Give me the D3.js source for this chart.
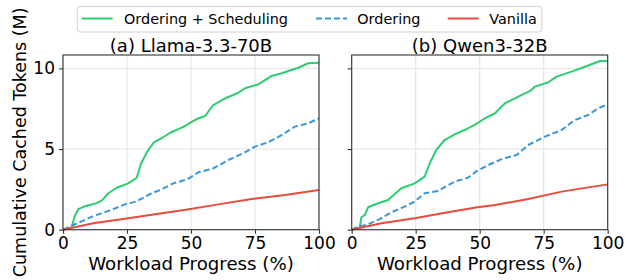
<!DOCTYPE html>
<html><head><meta charset="utf-8">
<script src="https://cdn.jsdelivr.net/npm/d3@7"></script>
<style>body{margin:0;background:#fff}svg{display:block}text{font-family:"DejaVu Sans",sans-serif;fill:#000}</style>
</head><body><svg id="c" width="637" height="280"></svg>
<script>
// ---- data ----
const seriesNames = ["Ordering + Scheduling", "Ordering", "Vanilla"];
const panelTitles = ["(a) Llama-3.3-70B", "(b) Qwen3-32B"];
const xTicks = [0, 25, 50, 75, 100];
const yTicks = [0, 5, 10];
const xLabel = "Workload Progress (%)";
const yLabel = "Cumulative Cached Tokens (M)";

const llamaFullX = [0,3.3,4.6,6,8,10.5,13,15.1,17.7,21,25.5,28.8,30.5,32.9,35.5,38.5,41.8,45.7,47.7,49.6,52.2,55.5,58.7,63.9,68.5,71.1,76.3,81.5,85.4,91.9,95.8,100];
const llamaFullY = [0,0.12,0.85,1.28,1.42,1.53,1.65,1.8,2.26,2.6,2.87,3.22,4.1,4.84,5.42,5.67,6.01,6.28,6.43,6.62,6.86,7.05,7.73,8.18,8.49,8.77,9.01,9.53,9.7,10.04,10.32,10.35];
const llamaOrdX = [0,4,7.9,11.8,15.1,19.7,24.2,28.8,34,37.9,43.1,47.7,49.6,52.9,58.7,64.6,70.4,75,80.2,85.4,90.6,95.8,100];
const llamaOrdY = [0,0.29,0.56,0.85,1.01,1.28,1.57,1.76,2.21,2.46,2.87,3.08,3.22,3.56,3.8,4.32,4.74,5.15,5.42,5.87,6.39,6.6,6.9];
const llamaVanX = [0,11.8,24.9,37.9,48,60.7,73.7,86.7,100];
const llamaVanY = [0,0.4,0.7,1.01,1.24,1.57,1.9,2.15,2.46];

const qwenFullX = [0,3.1,3.8,5.1,6.4,10.3,14.2,19.4,24.6,28.5,30.5,33,36.3,40.2,44.1,48.5,52,56,59.9,65.1,69.7,71.6,76.8,80.1,85.9,91.1,97,100];
const qwenFullY = [0,0.12,0.77,0.91,1.39,1.64,1.84,2.57,2.87,3.29,4.12,4.94,5.56,5.91,6.18,6.55,6.9,7.22,7.84,8.25,8.6,8.87,9.14,9.49,9.8,10.1,10.46,10.46];
const qwenOrdX = [0,2.5,6.4,10.9,15.5,20.7,24.6,28.5,33.7,40.2,45.4,48.5,53.4,58.6,64.4,69,75.5,82,87.2,92.4,96.3,100];
const qwenOrdY = [0,0.19,0.33,0.66,1.08,1.43,1.74,2.26,2.4,2.98,3.22,3.6,4.01,4.38,4.63,5.25,5.77,6.18,6.8,7.11,7.53,7.77];
const qwenVanX = [0,11.6,24.6,37.6,48.5,56,69,82,100];
const qwenVanY = [0,0.4,0.71,1.08,1.37,1.53,1.9,2.36,2.81];

// ---- styles ----
const colors = ["#2ecc71", "#3498db", "#e74c3c"];
const dashes = [null, "6,3", null];

const panels = [
  {title: panelTitles[0], left: 63, series: [[llamaFullX, llamaFullY], [llamaOrdX, llamaOrdY], [llamaVanX, llamaVanY]], yLabels: true},
  {title: panelTitles[1], left: 351.7, series: [[qwenFullX, qwenFullY], [qwenOrdX, qwenOrdY], [qwenVanX, qwenVanY]], yLabels: false}
];
const PW = 256, PT = 55, PB = 229.7;
const svg = d3.select("#c");
svg.append("rect").attr("width", 637).attr("height", 280).attr("fill", "#fff");

const y = d3.scaleLinear().domain([0, 10.83]).range([PB, PT]);
const spine = "#333";

panels.forEach(p => {
  const x = d3.scaleLinear().domain([0, 100]).range([p.left, p.left + PW]);
  const g = svg.append("g");
  // grid
  g.selectAll(".gx").data(xTicks).join("line")
    .attr("x1", d => x(d)).attr("x2", d => x(d)).attr("y1", PT).attr("y2", PB)
    .attr("stroke", "#e3e3e3").attr("stroke-width", 1);
  g.selectAll(".gy").data(yTicks).join("line")
    .attr("x1", p.left).attr("x2", p.left + PW).attr("y1", d => y(d)).attr("y2", d => y(d))
    .attr("stroke", "#e3e3e3").attr("stroke-width", 1);
  // lines
  p.series.forEach((s, i) => {
    const pts = s[0].map((v, k) => [v, s[1][k]]);
    const line = d3.line().x(d => x(d[0])).y(d => y(d[1]));
    g.append("path").attr("d", line(pts)).attr("fill", "none")
      .attr("stroke", colors[i]).attr("stroke-width", 2)
      .attr("stroke-dasharray", dashes[i]).attr("stroke-linejoin", "round");
  });
  // axes
  const xa = g.append("g").attr("transform", `translate(0,${PB})`)
    .call(d3.axisBottom(x).tickValues(xTicks).tickSize(4).tickPadding(3).tickFormat(d3.format("d")));
  const ya = g.append("g").attr("transform", `translate(${p.left},0)`)
    .call(d3.axisLeft(y).tickValues(yTicks).tickSize(4).tickPadding(4).tickFormat(p.yLabels ? d3.format("d") : ""));
  [xa, ya].forEach(a => {
    a.select(".domain").remove();
    a.selectAll("line").attr("stroke", spine).attr("stroke-width", 1.1);
    a.selectAll("text").style("font-family", "DejaVu Sans").style("font-size", "17px").attr("fill", "#000");
  });
  // frame
  g.append("rect").attr("x", p.left).attr("y", PT).attr("width", PW).attr("height", PB - PT)
    .attr("fill", "none").attr("stroke", spine).attr("stroke-width", 1.1);
  // title
  g.append("text").attr("x", p.left + PW / 2).attr("y", 51.5).attr("text-anchor", "middle")
    .style("font-size", "18px").text(p.title);
  // x label
  g.append("text").attr("x", p.left + PW / 2).attr("y", 270).attr("text-anchor", "middle")
    .style("font-size", "18.2px").text(xLabel);
});

// y label
svg.append("text").attr("transform", `translate(26.3,${(PT + PB) / 2}) rotate(-90)`)
  .attr("text-anchor", "middle").style("font-size", "17.5px").text(yLabel);

// legend
const lg = svg.append("g");
lg.append("rect").attr("x", 77.3).attr("y", 6.5).attr("width", 464.5).attr("height", 25.5).attr("rx", 3)
  .attr("fill", "#fff").attr("stroke", "#d0d0d0").attr("stroke-width", 1);
const legendPos = [[81.7, 124], [316, 357.3], [447.7, 489.3]];
seriesNames.forEach((n, i) => {
  const [lx, tx] = legendPos[i];
  lg.append("line").attr("x1", lx).attr("x2", lx + 31).attr("y1", 18.5).attr("y2", 18.5)
    .attr("stroke", colors[i]).attr("stroke-width", 2).attr("stroke-dasharray", dashes[i]);
  lg.append("text").attr("x", tx).attr("y", 24).style("font-size", "14.4px").text(n);
});
</script></body></html>
